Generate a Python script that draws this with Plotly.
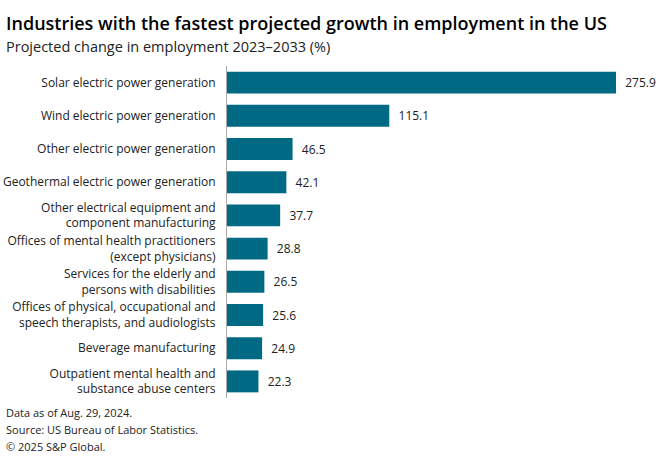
import plotly.graph_objects as go

categories = [
    "Solar electric power generation",
    "Wind electric power generation",
    "Other electric power generation",
    "Geothermal electric power generation",
    "Other electrical equipment and<br>component manufacturing",
    "Offices of mental health practitioners<br>(except physicians)",
    "Services for the elderly and<br>persons with disabilities",
    "Offices of physical, occupational and<br>speech therapists, and audiologists",
    "Beverage manufacturing",
    "Outpatient mental health and<br>substance abuse centers",
]
values = [275.9, 115.1, 46.5, 42.1, 37.7, 28.8, 26.5, 25.6, 24.9, 22.3]
footer_lines = [
    "Data as of Aug. 29, 2024.",
    "Source: US Bureau of Labor Statistics.",
    "\u00a9 2025 S&P Global.",
]

FONT = "Open Sans"
L, R, T, B = 227, 10, 66, 66
W, H = 660, 464
PW, PH = W - L - R, H - T - B


def px(x):
    return (x - L) / PW


def py(y):
    return (H - B - y) / PH


fig = go.Figure(go.Bar(
    x=values, y=categories, orientation="h",
    marker=dict(color="#006a85", line=dict(width=0)),
    texttemplate="\u00a0\u00a0%{x:.1f}", textposition="outside",
    textfont=dict(family=FONT, size=12, color="#222222"),
    constraintext="none", cliponaxis=False, width=0.66,
    hoverinfo="skip",
))
annotations = [
    dict(text="Industries with the fastest projected growth in employment in the US",
         x=px(4), y=py(9), xref="paper", yref="paper", xanchor="left", yanchor="top",
         showarrow=False, font=dict(family=FONT, size=18, color="#000000", weight=600)),
    dict(text="Projected change in employment 2023\u20132033 (%)",
         x=px(4), y=py(35), xref="paper", yref="paper", xanchor="left", yanchor="top",
         showarrow=False, font=dict(family=FONT, size=14.5, color="#222222")),
]
for i, line in enumerate(footer_lines):
    annotations.append(dict(
        text=line, x=px(4), y=py(413 + 16.5 * i), xref="paper", yref="paper",
        xanchor="left", yanchor="middle", align="left", showarrow=False,
        font=dict(family=FONT, size=11, color="#222222")))

fig.update_layout(
    width=W, height=H,
    margin=dict(l=L, r=R, t=T, b=B, autoexpand=False),
    paper_bgcolor="white", plot_bgcolor="white",
    showlegend=False,
    font=dict(family=FONT, size=12, color="#222222"),
    xaxis=dict(range=[0, 300], visible=False, fixedrange=True, automargin=False),
    yaxis=dict(autorange="reversed", showline=True, linecolor="#aaaaaa", linewidth=1,
               ticks="", ticklabelstandoff=8, automargin=False, fixedrange=True,
               tickfont=dict(family=FONT, size=12, color="#222222")),
    annotations=annotations,
)
fig.write_html("out.html", config={"displayModeBar": False},
               post_script="document.body.style.margin='0';")
